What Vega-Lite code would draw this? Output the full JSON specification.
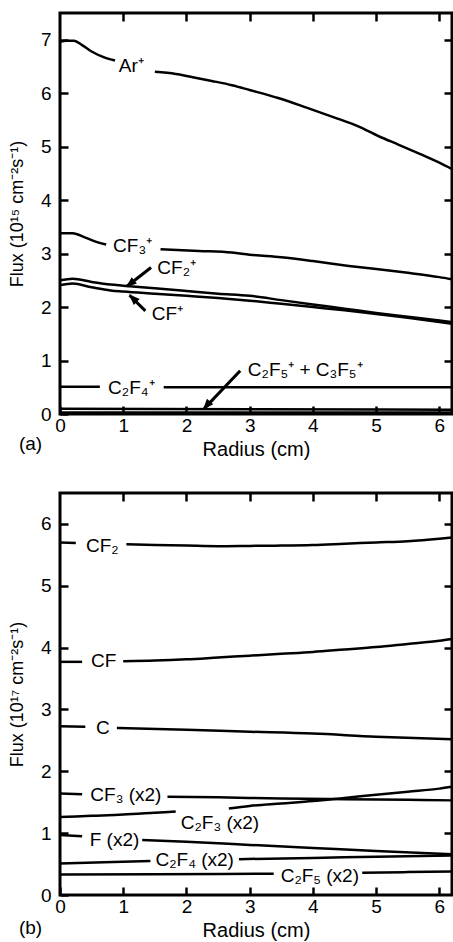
{
  "$schema": "https://vega.github.io/schema/vega-lite/v6.json",
  "padding": {"left": 6, "top": 10, "right": 0, "bottom": 0},
  "spacing": 29,
  "config": {
    "font": "Liberation Sans",
    "view": {"stroke": "black", "strokeWidth": 3},
    "axis": {
      "grid": false, "domain": false,
      "tickColor": "black", "tickWidth": 2.5, "tickSize": -8,
      "labelColor": "black", "labelFontSize": 19, "labelFlush": false,
      "titleColor": "black", "titleFontSize": 18, "titleFontWeight": "normal"
    },
    "text": {"fontSize": 19, "color": "black", "align": "left", "baseline": "middle"}
  },
  "datasets": {
    "a_lines": [
      {"seg": "Ar1", "r": 0, "flux": 6.96}, {"seg": "Ar1", "r": 0.1, "flux": 6.98}, {"seg": "Ar1", "r": 0.22, "flux": 6.98}, {"seg": "Ar1", "r": 0.35, "flux": 6.9}, {"seg": "Ar1", "r": 0.5, "flux": 6.78}, {"seg": "Ar1", "r": 0.7, "flux": 6.67}, {"seg": "Ar1", "r": 0.87, "flux": 6.61},
      {"seg": "Ar2", "r": 1.5, "flux": 6.4}, {"seg": "Ar2", "r": 1.83, "flux": 6.36}, {"seg": "Ar2", "r": 2.1, "flux": 6.3}, {"seg": "Ar2", "r": 2.4, "flux": 6.23}, {"seg": "Ar2", "r": 2.72, "flux": 6.15}, {"seg": "Ar2", "r": 3.0, "flux": 6.06}, {"seg": "Ar2", "r": 3.45, "flux": 5.91}, {"seg": "Ar2", "r": 3.9, "flux": 5.73}, {"seg": "Ar2", "r": 4.4, "flux": 5.52}, {"seg": "Ar2", "r": 4.7, "flux": 5.39}, {"seg": "Ar2", "r": 5.05, "flux": 5.19}, {"seg": "Ar2", "r": 5.35, "flux": 5.04}, {"seg": "Ar2", "r": 5.7, "flux": 4.86}, {"seg": "Ar2", "r": 6.0, "flux": 4.7}, {"seg": "Ar2", "r": 6.2, "flux": 4.58},
      {"seg": "CF3a", "r": 0, "flux": 3.38}, {"seg": "CF3a", "r": 0.2, "flux": 3.38}, {"seg": "CF3a", "r": 0.4, "flux": 3.3}, {"seg": "CF3a", "r": 0.6, "flux": 3.21}, {"seg": "CF3a", "r": 0.73, "flux": 3.17},
      {"seg": "CF3b", "r": 1.59, "flux": 3.08}, {"seg": "CF3b", "r": 2.2, "flux": 3.05}, {"seg": "CF3b", "r": 2.72, "flux": 3.02}, {"seg": "CF3b", "r": 3.0, "flux": 2.98}, {"seg": "CF3b", "r": 3.5, "flux": 2.93}, {"seg": "CF3b", "r": 4.0, "flux": 2.86}, {"seg": "CF3b", "r": 4.57, "flux": 2.77}, {"seg": "CF3b", "r": 5.0, "flux": 2.71}, {"seg": "CF3b", "r": 5.5, "flux": 2.64}, {"seg": "CF3b", "r": 6.0, "flux": 2.56}, {"seg": "CF3b", "r": 6.2, "flux": 2.52},
      {"seg": "CF2", "r": 0, "flux": 2.5}, {"seg": "CF2", "r": 0.2, "flux": 2.53}, {"seg": "CF2", "r": 0.5, "flux": 2.47}, {"seg": "CF2", "r": 0.8, "flux": 2.42}, {"seg": "CF2", "r": 1.0, "flux": 2.4}, {"seg": "CF2", "r": 1.5, "flux": 2.35}, {"seg": "CF2", "r": 2.0, "flux": 2.3}, {"seg": "CF2", "r": 2.5, "flux": 2.25}, {"seg": "CF2", "r": 3.0, "flux": 2.21}, {"seg": "CF2", "r": 3.5, "flux": 2.13}, {"seg": "CF2", "r": 4.0, "flux": 2.05}, {"seg": "CF2", "r": 4.5, "flux": 1.97}, {"seg": "CF2", "r": 5.0, "flux": 1.89}, {"seg": "CF2", "r": 5.5, "flux": 1.82}, {"seg": "CF2", "r": 6.0, "flux": 1.75}, {"seg": "CF2", "r": 6.2, "flux": 1.72},
      {"seg": "CF", "r": 0, "flux": 2.41}, {"seg": "CF", "r": 0.2, "flux": 2.44}, {"seg": "CF", "r": 0.5, "flux": 2.37}, {"seg": "CF", "r": 0.8, "flux": 2.31}, {"seg": "CF", "r": 1.0, "flux": 2.29}, {"seg": "CF", "r": 1.5, "flux": 2.25}, {"seg": "CF", "r": 2.0, "flux": 2.21}, {"seg": "CF", "r": 2.5, "flux": 2.17}, {"seg": "CF", "r": 3.0, "flux": 2.12}, {"seg": "CF", "r": 3.5, "flux": 2.06}, {"seg": "CF", "r": 4.0, "flux": 2.0}, {"seg": "CF", "r": 4.5, "flux": 1.94}, {"seg": "CF", "r": 5.0, "flux": 1.87}, {"seg": "CF", "r": 5.5, "flux": 1.8}, {"seg": "CF", "r": 6.0, "flux": 1.72}, {"seg": "CF", "r": 6.2, "flux": 1.69},
      {"seg": "C2F4a", "r": 0, "flux": 0.51}, {"seg": "C2F4a", "r": 0.63, "flux": 0.51},
      {"seg": "C2F4b", "r": 1.64, "flux": 0.5}, {"seg": "C2F4b", "r": 6.2, "flux": 0.5},
      {"seg": "C2F5", "r": 0, "flux": 0.1}, {"seg": "C2F5", "r": 3.0, "flux": 0.09}, {"seg": "C2F5", "r": 6.2, "flux": 0.08},
      {"seg": "C3F5", "r": 0, "flux": 0.03}, {"seg": "C3F5", "r": 6.2, "flux": 0.03}
    ],
    "a_arrows": [
      {"r": 1.44, "flux": 2.74, "r2": 1.06, "flux2": 2.39},
      {"r": 1.35, "flux": 1.93, "r2": 1.1, "flux2": 2.22},
      {"r": 2.85, "flux": 0.81, "r2": 2.28, "flux2": 0.1}
    ],
    "a_tips": [
      {"r": 1.04, "flux": 2.37, "angle": 231},
      {"r": 1.09, "flux": 2.24, "angle": 315},
      {"r": 2.26, "flux": 0.08, "angle": 221}
    ],
    "a_labels": [
      {"r": 0.93, "flux": 6.51, "label": "Ar⁺"},
      {"r": 0.84, "flux": 3.15, "label": "CF₃⁺"},
      {"r": 1.54, "flux": 2.74, "label": "CF₂⁺"},
      {"r": 1.45, "flux": 1.87, "label": "CF⁺"},
      {"r": 0.76, "flux": 0.48, "label": "C₂F₄⁺"},
      {"r": 2.97, "flux": 0.83, "label": "C₂F₅⁺ + C₃F₅⁺"},
      {"r": -0.65, "flux": -0.555, "label": "(a)"}
    ],
    "b_lines": [
      {"seg": "CF2a", "r": 0, "flux": 5.7}, {"seg": "CF2a", "r": 0.25, "flux": 5.69},
      {"seg": "CF2b", "r": 1.05, "flux": 5.67}, {"seg": "CF2b", "r": 1.5, "flux": 5.66}, {"seg": "CF2b", "r": 2.0, "flux": 5.65}, {"seg": "CF2b", "r": 2.5, "flux": 5.64}, {"seg": "CF2b", "r": 3.0, "flux": 5.645}, {"seg": "CF2b", "r": 3.5, "flux": 5.65}, {"seg": "CF2b", "r": 4.0, "flux": 5.66}, {"seg": "CF2b", "r": 4.5, "flux": 5.68}, {"seg": "CF2b", "r": 5.0, "flux": 5.7}, {"seg": "CF2b", "r": 5.5, "flux": 5.72}, {"seg": "CF2b", "r": 6.0, "flux": 5.76}, {"seg": "CF2b", "r": 6.2, "flux": 5.78},
      {"seg": "CFa", "r": 0, "flux": 3.77}, {"seg": "CFa", "r": 0.35, "flux": 3.77},
      {"seg": "CFb", "r": 1.0, "flux": 3.78}, {"seg": "CFb", "r": 1.5, "flux": 3.79}, {"seg": "CFb", "r": 2.0, "flux": 3.81}, {"seg": "CFb", "r": 2.5, "flux": 3.84}, {"seg": "CFb", "r": 3.0, "flux": 3.87}, {"seg": "CFb", "r": 3.5, "flux": 3.9}, {"seg": "CFb", "r": 4.0, "flux": 3.93}, {"seg": "CFb", "r": 4.5, "flux": 3.97}, {"seg": "CFb", "r": 5.0, "flux": 4.01}, {"seg": "CFb", "r": 5.5, "flux": 4.06}, {"seg": "CFb", "r": 6.0, "flux": 4.11}, {"seg": "CFb", "r": 6.2, "flux": 4.14},
      {"seg": "Ca", "r": 0, "flux": 2.73}, {"seg": "Ca", "r": 0.4, "flux": 2.72},
      {"seg": "Cb", "r": 0.9, "flux": 2.7}, {"seg": "Cb", "r": 2.0, "flux": 2.67}, {"seg": "Cb", "r": 3.0, "flux": 2.64}, {"seg": "Cb", "r": 4.0, "flux": 2.61}, {"seg": "Cb", "r": 5.0, "flux": 2.56}, {"seg": "Cb", "r": 6.2, "flux": 2.52},
      {"seg": "CF3a", "r": 0, "flux": 1.64}, {"seg": "CF3a", "r": 0.35, "flux": 1.63},
      {"seg": "CF3b", "r": 1.7, "flux": 1.59}, {"seg": "CF3b", "r": 2.5, "flux": 1.58}, {"seg": "CF3b", "r": 3.5, "flux": 1.56}, {"seg": "CF3b", "r": 4.5, "flux": 1.55}, {"seg": "CF3b", "r": 5.5, "flux": 1.54}, {"seg": "CF3b", "r": 6.2, "flux": 1.53},
      {"seg": "C2F3a", "r": 0, "flux": 1.26}, {"seg": "C2F3a", "r": 0.5, "flux": 1.28}, {"seg": "C2F3a", "r": 1.0, "flux": 1.3}, {"seg": "C2F3a", "r": 1.5, "flux": 1.33}, {"seg": "C2F3a", "r": 1.83, "flux": 1.35},
      {"seg": "C2F3b", "r": 2.67, "flux": 1.4}, {"seg": "C2F3b", "r": 3.0, "flux": 1.44}, {"seg": "C2F3b", "r": 3.5, "flux": 1.48}, {"seg": "C2F3b", "r": 4.0, "flux": 1.52}, {"seg": "C2F3b", "r": 4.5, "flux": 1.57}, {"seg": "C2F3b", "r": 5.0, "flux": 1.62}, {"seg": "C2F3b", "r": 5.5, "flux": 1.67}, {"seg": "C2F3b", "r": 6.0, "flux": 1.72}, {"seg": "C2F3b", "r": 6.2, "flux": 1.75},
      {"seg": "Fa", "r": 0, "flux": 0.97}, {"seg": "Fa", "r": 0.35, "flux": 0.95},
      {"seg": "Fb", "r": 1.3, "flux": 0.89}, {"seg": "Fb", "r": 2.0, "flux": 0.86}, {"seg": "Fb", "r": 3.0, "flux": 0.81}, {"seg": "Fb", "r": 4.0, "flux": 0.76}, {"seg": "Fb", "r": 5.0, "flux": 0.71}, {"seg": "Fb", "r": 6.2, "flux": 0.66},
      {"seg": "C2F4a", "r": 0, "flux": 0.51}, {"seg": "C2F4a", "r": 0.7, "flux": 0.53}, {"seg": "C2F4a", "r": 1.43, "flux": 0.55},
      {"seg": "C2F4b", "r": 2.83, "flux": 0.58}, {"seg": "C2F4b", "r": 4.0, "flux": 0.6}, {"seg": "C2F4b", "r": 5.0, "flux": 0.62}, {"seg": "C2F4b", "r": 6.2, "flux": 0.64},
      {"seg": "C2F5a", "r": 0, "flux": 0.33}, {"seg": "C2F5a", "r": 1.5, "flux": 0.335}, {"seg": "C2F5a", "r": 3.38, "flux": 0.345},
      {"seg": "C2F5b", "r": 4.78, "flux": 0.36}, {"seg": "C2F5b", "r": 5.5, "flux": 0.37}, {"seg": "C2F5b", "r": 6.2, "flux": 0.38}
    ],
    "b_labels": [
      {"r": 0.41, "flux": 5.65, "label": "CF₂"},
      {"r": 0.49, "flux": 3.78, "label": "CF"},
      {"r": 0.57, "flux": 2.7, "label": "C"},
      {"r": 0.48, "flux": 1.62, "label": "CF₃ (x2)"},
      {"r": 1.91, "flux": 1.17, "label": "C₂F₃ (x2)"},
      {"r": 0.47, "flux": 0.89, "label": "F (x2)"},
      {"r": 1.51, "flux": 0.57, "label": "C₂F₄ (x2)"},
      {"r": 3.49, "flux": 0.315, "label": "C₂F₅ (x2)"},
      {"r": -0.65, "flux": -0.53, "label": "(b)"}
    ]
  },
  "vconcat": [
    {
      "width": 392, "height": 401,
      "resolve": {"axis": {"x": "independent", "y": "independent"}},
      "layer": [
        {
          "data": {"name": "a_lines"},
          "mark": {"type": "line", "color": "black", "strokeWidth": 2.5, "interpolate": "monotone"},
          "encoding": {
            "x": {"field": "r", "type": "quantitative", "scale": {"domain": [0, 6.2], "nice": false, "zero": false},
                  "axis": {"orient": "bottom", "title": "Radius (cm)", "values": [0, 1, 2, 3, 4, 5, 6], "labelPadding": 10, "titlePadding": 4, "titleFontSize": 20}},
            "y": {"field": "flux", "type": "quantitative", "scale": {"domain": [0, 7.5], "nice": false},
                  "axis": {"orient": "left", "title": "Flux (10¹⁵ cm⁻²s⁻¹)", "values": [0, 1, 2, 3, 4, 5, 6, 7], "labelPadding": 17, "titlePadding": 14}},
            "detail": {"field": "seg"}
          }
        },
        {
          "data": {"name": "a_arrows"},
          "mark": {"type": "rule", "color": "black", "strokeWidth": 3},
          "encoding": {
            "x": {"field": "r", "type": "quantitative", "axis": null},
            "y": {"field": "flux", "type": "quantitative", "axis": null},
            "x2": {"field": "r2"},
            "y2": {"field": "flux2"}
          }
        },
        {
          "data": {"name": "a_tips"},
          "mark": {"type": "point", "shape": "M0,0L0.75,2L-0.75,2Z", "filled": true, "color": "black", "opacity": 1, "size": 121},
          "encoding": {
            "x": {"field": "r", "type": "quantitative", "axis": null},
            "y": {"field": "flux", "type": "quantitative", "axis": null},
            "angle": {"field": "angle", "type": "quantitative", "scale": null}
          }
        },
        {
          "data": {"name": "a_labels"},
          "mark": {"type": "text"},
          "encoding": {
            "x": {"field": "r", "type": "quantitative", "axis": {"orient": "top", "labels": false, "title": null, "values": [1, 2, 3, 4, 5, 6]}},
            "y": {"field": "flux", "type": "quantitative", "axis": {"orient": "right", "labels": false, "title": null, "values": [1, 2, 3, 4, 5, 6, 7]}},
            "text": {"field": "label"}
          }
        }
      ]
    },
    {
      "width": 392, "height": 402,
      "resolve": {"axis": {"x": "independent", "y": "independent"}},
      "layer": [
        {
          "data": {"name": "b_lines"},
          "mark": {"type": "line", "color": "black", "strokeWidth": 2.5, "interpolate": "monotone"},
          "encoding": {
            "x": {"field": "r", "type": "quantitative", "scale": {"domain": [0, 6.2], "nice": false, "zero": false},
                  "axis": {"orient": "bottom", "title": "Radius (cm)", "values": [0, 1, 2, 3, 4, 5, 6], "labelPadding": 10, "titlePadding": 4, "titleFontSize": 20}},
            "y": {"field": "flux", "type": "quantitative", "scale": {"domain": [0, 6.5], "nice": false},
                  "axis": {"orient": "left", "title": "Flux (10¹⁷ cm⁻²s⁻¹)", "values": [0, 1, 2, 3, 4, 5, 6], "labelPadding": 17, "titlePadding": 14}},
            "detail": {"field": "seg"}
          }
        },
        {
          "data": {"name": "b_labels"},
          "mark": {"type": "text"},
          "encoding": {
            "x": {"field": "r", "type": "quantitative", "axis": {"orient": "top", "labels": false, "title": null, "values": [1, 2, 3, 4, 5, 6]}},
            "y": {"field": "flux", "type": "quantitative", "axis": {"orient": "right", "labels": false, "title": null, "values": [1, 2, 3, 4, 5, 6]}},
            "text": {"field": "label"}
          }
        }
      ]
    }
  ]
}
